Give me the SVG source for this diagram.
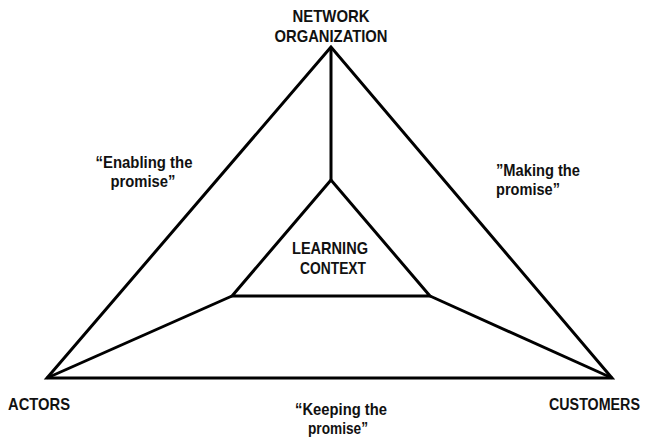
<svg xmlns="http://www.w3.org/2000/svg" width="648" height="439" viewBox="0 0 648 439">
<style>
.l{fill:none;stroke:#000;stroke-width:3;stroke-linejoin:miter}
text{font-family:"Liberation Sans",Arial,sans-serif;font-weight:bold;font-size:17px;fill:#111}
.m{text-anchor:middle}
</style>
<rect width="648" height="439" fill="#fff"/>
<g id="outer"><polygon class="l" points="331,47 47,378 612,378"/></g>
<g id="inner"><polygon class="l" points="331,180 232,296 430,296"/>
<text class="m" x="330" y="254" textLength="76" lengthAdjust="spacingAndGlyphs">LEARNING</text>
<text class="m" x="333" y="274" textLength="66" lengthAdjust="spacingAndGlyphs">CONTEXT</text></g>
<g id="connectors">
<line class="l" x1="331" y1="47" x2="331" y2="180"/>
<line class="l" x1="47" y1="378" x2="232" y2="296"/>
<line class="l" x1="612" y1="378" x2="430" y2="296"/>
</g>
<g id="network"><text class="m" x="331" y="22" textLength="77" lengthAdjust="spacingAndGlyphs">NETWORK</text>
<text class="m" x="331" y="42" textLength="113" lengthAdjust="spacingAndGlyphs">ORGANIZATION</text></g>
<g id="actors"><text x="8" y="410" textLength="62" lengthAdjust="spacingAndGlyphs">ACTORS</text></g>
<g id="customers"><text transform="translate(549,410) scale(0.84,1)" x="0" y="0">CUSTOMERS</text></g>
<g id="enabling"><text class="m" x="144" y="168" textLength="97" lengthAdjust="spacingAndGlyphs">“Enabling the</text>
<text class="m" x="143" y="187" textLength="65" lengthAdjust="spacingAndGlyphs">promise”</text></g>
<g id="making"><text x="496" y="176" textLength="84" lengthAdjust="spacingAndGlyphs">”Making the</text>
<text x="496" y="195" textLength="64" lengthAdjust="spacingAndGlyphs">promise”</text></g>
<g id="keeping"><text class="m" x="341" y="415" textLength="92" lengthAdjust="spacingAndGlyphs">“Keeping the</text>
<text class="m" x="338" y="434" textLength="60" lengthAdjust="spacingAndGlyphs">promise”</text></g>
</svg>
